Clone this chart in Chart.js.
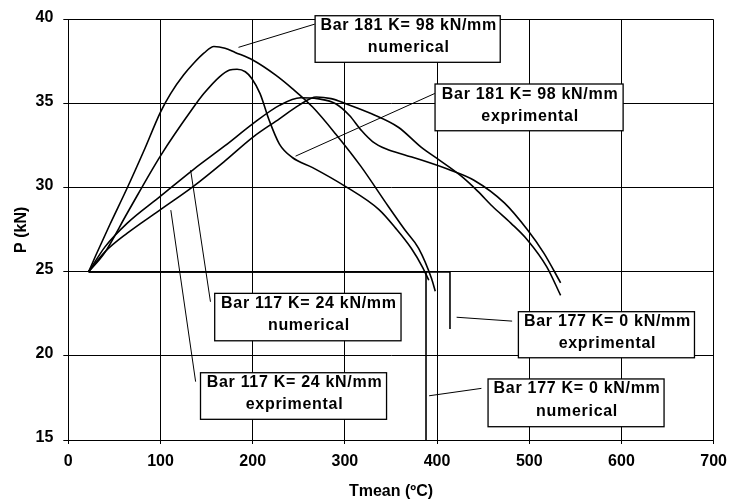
<!DOCTYPE html>
<html>
<head>
<meta charset="utf-8">
<script src="https://cdn.jsdelivr.net/npm/chart.js@4.4.1/dist/chart.umd.min.js"></script>
<style>
body { margin: 0; background: #fff; }
</style>
</head>
<body>
<canvas id="tempLoadChart" width="735" height="504"></canvas>
<script>
// Bar 181, K = 98 kN/mm
let b181NumT = [22, 30, 45, 64, 82, 100, 111, 125, 136, 147, 158, 170, 181, 200, 225, 243, 265, 290, 317, 347, 365, 380, 394, 398];
let b181NumP = [25, 26.0, 27.8, 30.0, 32.2, 34.5, 35.6, 36.7, 37.4, 38.0, 38.4, 38.3, 38.05, 37.6, 36.7, 35.9, 34.8, 33.2, 31.3, 28.9, 27.5, 26.4, 24.6, 23.85];
let b181ExpT = [22, 39, 64, 100, 136, 147, 164, 175, 183, 192, 199, 208, 218, 229, 243, 265, 300, 337, 355, 372, 384, 391];
let b181ExpP = [25, 26.1, 28.5, 31.9, 34.8, 35.6, 36.6, 37.0, 37.05, 36.9, 36.5, 35.6, 34.0, 32.6, 31.8, 31.2, 30.1, 28.7, 27.6, 26.4, 25.3, 24.5];
// Bar 117, K = 24 kN/mm
let b117NumT = [22, 40, 64, 100, 136, 170, 200, 229, 252, 270, 290, 305, 318, 330, 345, 365, 383, 412, 440, 473, 498, 516, 534];
let b117NumP = [25, 26.5, 27.9, 29.5, 31.1, 32.5, 33.8, 34.9, 35.35, 35.3, 35.0, 34.3, 33.4, 32.75, 32.3, 31.95, 31.65, 31.1, 30.45, 29.1, 27.5, 26.1, 24.35];
let b117ExpT = [22, 40, 64, 100, 136, 170, 200, 229, 250, 269, 285, 301, 329, 358, 383, 401, 426, 444, 460, 480, 498, 519, 534];
let b117ExpP = [25, 26.2, 27.3, 28.7, 30.1, 31.6, 33.0, 34.1, 34.9, 35.4, 35.3, 35.0, 34.4, 33.6, 32.4, 31.7, 30.7, 29.8, 28.9, 27.9, 26.9, 25.3, 23.6];
// Bar 177, K = 0 kN/mm
let b177NumT = [22, 388, 388];
let b177NumP = [25, 25, 15];
let b177ExpT = [22, 414, 414];
let b177ExpP = [25, 25, 21.6];

let xTicks = [0, 100, 200, 300, 400, 500, 600, 700];
let yTicks = [15, 20, 25, 30, 35, 40];

function pts(t, p) {
	return t.map((v, i) => ({ x: v, y: p[i] }));
}

// label boxes and their pointer lines, in data units
let notes = [
	{ text: ['Bar 181 K= 98 kN/mm', 'numerical'], box: [267.7, 40.23, 468.5, 37.46], from: [267.3, 39.73], to: [184.6, 38.35] },
	{ text: ['Bar 181 K= 98 kN/mm', 'exprimental'], box: [397.8, 36.17, 601.8, 33.39], from: [397.6, 35.61], to: [246.5, 31.88] },
	{ text: ['Bar 117 K= 24 kN/mm', 'numerical'], box: [158.8, 23.72, 360.9, 20.9], from: [154.2, 23.22], to: [132.7, 31.05] },
	{ text: ['Bar 117 K= 24 kN/mm', 'exprimental'], box: [143.4, 19.0, 345.2, 16.23], from: [138.1, 18.47], to: [111.2, 28.67] },
	{ text: ['Bar 177 K= 0 kN/mm', 'exprimental'], box: [488.2, 22.63, 679.2, 19.89], from: [481.4, 22.07], to: [421.2, 22.3] },
	{ text: ['Bar 177 K= 0 kN/mm', 'numerical'], box: [455.3, 18.63, 646.2, 15.79], from: [448.1, 18.07], to: [391.4, 17.63] }
];

const boxPlugin = {
	id: 'boxes',
	afterDraw(chart) {
		const ctx = chart.ctx;
		const xs = chart.scales.x, ys = chart.scales.y;
		ctx.save();
		notes.forEach(n => {
			ctx.beginPath();
			ctx.moveTo(xs.getPixelForValue(n.from[0]), ys.getPixelForValue(n.from[1]));
			ctx.lineTo(xs.getPixelForValue(n.to[0]), ys.getPixelForValue(n.to[1]));
			ctx.lineWidth = 1;
			ctx.strokeStyle = '#000';
			ctx.stroke();
			const l = xs.getPixelForValue(n.box[0]), t = ys.getPixelForValue(n.box[1]);
			const r = xs.getPixelForValue(n.box[2]), b = ys.getPixelForValue(n.box[3]);
			ctx.fillStyle = '#fff';
			ctx.fillRect(l, t, r - l, b - t);
			ctx.lineWidth = 1.3;
			ctx.strokeRect(l, t, r - l, b - t);
			ctx.fillStyle = '#000';
			ctx.font = 'bold 16px "Liberation Sans", Arial, sans-serif';
			ctx.textAlign = 'center';
			ctx.textBaseline = 'alphabetic';
			ctx.letterSpacing = '0.7px';
			ctx.fillText(n.text[0], (l + r) / 2 + 1, t + 14.5);
			ctx.fillText(n.text[1], (l + r) / 2 + 1, t + 36.6);
		});
		ctx.restore();
	}
};

function line(t, p, smooth) {
	return {
		data: pts(t, p),
		borderColor: '#000',
		borderWidth: 1.6,
		pointRadius: 0,
		tension: smooth ? 0.4 : 0,
		cubicInterpolationMode: smooth ? 'monotone' : 'default',
		fill: false
	};
}

var tickFont = { family: 'Liberation Sans', size: 16, weight: 'bold' };

var ctx = document.getElementById('tempLoadChart').getContext('2d');
var tempLoadChart = new Chart(ctx, {
	type: 'line',
	data: {
		datasets: [
			line(b181NumT, b181NumP, true),
			line(b181ExpT, b181ExpP, true),
			line(b117NumT, b117NumP, true),
			line(b117ExpT, b117ExpP, true),
			line(b177NumT, b177NumP, false),
			line(b177ExpT, b177ExpP, false)
		]
	},
	options: {
		responsive: false,
		animation: false,
		layout: { padding: { top: 19.5, right: 16, left: 0, bottom: 0 } },
		plugins: {
			legend: { display: false },
			tooltip: { enabled: false }
		},
		scales: {
			x: {
				type: 'linear',
				min: 0,
				max: 700,
				afterBuildTicks: s => { s.ticks = xTicks.map(v => ({ value: v })); },
				afterFit: s => { s.height = 64; },
				grid: { color: '#000', lineWidth: 1, tickLength: 4 },
				border: { color: '#000', width: 1 },
				ticks: { color: '#000', font: tickFont, padding: 8, maxRotation: 0 },
				title: { display: true, text: 'Tmean (ºC)', color: '#000', font: tickFont, padding: { top: 0, bottom: 2.4 } }
			},
			y: {
				min: 15,
				max: 40,
				afterBuildTicks: s => { s.ticks = yTicks.map(v => ({ value: v })); },
				afterFit: s => { s.width = 68.3; },
				grid: { color: '#000', lineWidth: 1, tickLength: 5 },
				border: { color: '#000', width: 1 },
				ticks: { color: '#000', font: tickFont, padding: 10, labelOffset: -2 },
				title: { display: true, text: 'P (kN)', color: '#000', font: tickFont, padding: { top: 12.4, bottom: 0 } }
			}
		}
	},
	plugins: [boxPlugin]
});
</script>
</body>
</html>
